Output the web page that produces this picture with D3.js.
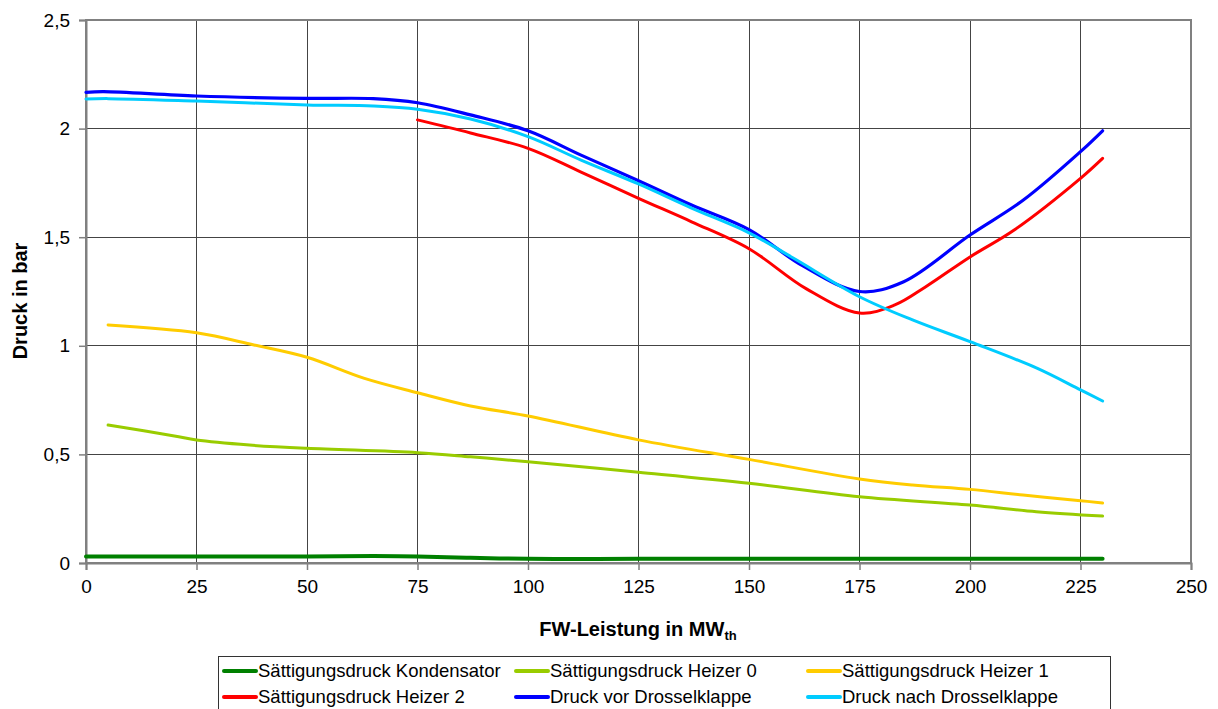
<!DOCTYPE html>
<html>
<head>
<meta charset="utf-8">
<script src="https://cdn.jsdelivr.net/npm/d3@7/dist/d3.min.js"></script>
<style>
  html, body { margin: 0; padding: 0; background: #fff; }
  text { font-family: "Liberation Sans", Arial, sans-serif; fill: #000; }
</style>
</head>
<body>
<svg id="chart" width="1218" height="709"></svg>
<script>
// ---- data ----
const xTicks = [0, 25, 50, 75, 100, 125, 150, 175, 200, 225, 250];
const yTicks = [0, 0.5, 1, 1.5, 2, 2.5];

const xKond = [0, 25, 50, 65, 75, 87, 100, 112, 125, 150, 175, 200, 230];
const kond  = [0.03, 0.03, 0.03, 0.032, 0.03, 0.024, 0.019, 0.018, 0.019, 0.02, 0.02, 0.02, 0.02];

const xH0 = [5, 20, 25, 37, 50, 75, 87, 100, 125, 150, 175, 200, 215, 230];
const h0  = [0.635, 0.585, 0.566, 0.543, 0.528, 0.508, 0.489, 0.466, 0.418, 0.367, 0.305, 0.267, 0.236, 0.216];

const xH1 = [5, 25, 38, 50, 63, 75, 87, 100, 125, 150, 175, 187, 200, 212, 225, 230];
const h1  = [1.096, 1.06, 1.004, 0.947, 0.85, 0.784, 0.723, 0.677, 0.567, 0.477, 0.387, 0.359, 0.339, 0.313, 0.287, 0.276];

const xH2 = [75, 87, 100, 112, 125, 137, 150, 163, 175, 183, 190, 200, 210, 225, 230];
const h2  = [2.04, 1.98, 1.909, 1.80, 1.679, 1.571, 1.447, 1.262, 1.151, 1.188, 1.272, 1.409, 1.533, 1.771, 1.863];

const xVor = [0, 4, 25, 50, 65, 75, 87, 100, 112, 125, 137, 150, 162, 175, 185, 200, 212, 225, 230];
const vor  = [2.167, 2.17, 2.15, 2.139, 2.138, 2.119, 2.063, 1.99, 1.878, 1.76, 1.648, 1.535, 1.37, 1.25, 1.295, 1.51, 1.67, 1.894, 1.99];

const xNach = [0, 5, 25, 50, 65, 75, 87, 100, 112, 125, 137, 150, 160, 175, 187, 200, 215, 225, 230];
const nach  = [2.136, 2.138, 2.127, 2.109, 2.104, 2.089, 2.044, 1.963, 1.855, 1.745, 1.634, 1.52, 1.404, 1.226, 1.119, 1.019, 0.898, 0.797, 0.746];

const seriesNames = ["Sättigungsdruck Kondensator", "Sättigungsdruck Heizer 0", "Sättigungsdruck Heizer 1",
                     "Sättigungsdruck Heizer 2", "Druck vor Drosselklappe", "Druck nach Drosselklappe"];
const seriesColors = ["#008000", "#99cc00", "#ffcc00", "#ff0000", "#0000ff", "#00ccff"];
const seriesX = [xKond, xH0, xH1, xH2, xVor, xNach];
const seriesY = [kond, h0, h1, h2, vor, nach];

// ---- layout ----
const svg = d3.select("#chart");
const L = 86, R = 1191, T = 20, B = 563;
const x = d3.scaleLinear().domain([0, 250]).range([L, R]);
const y = d3.scaleLinear().domain([0, 2.5]).range([B, T]);
const fmt = d => String(d).replace(".", ",");

// grid
svg.append("g").selectAll("line").data(xTicks.slice(1, -1)).join("line")
  .attr("x1", d => x(d)).attr("x2", d => x(d)).attr("y1", T).attr("y2", B)
  .attr("stroke", "#444").attr("stroke-width", 1).attr("shape-rendering", "crispEdges");
svg.append("g").selectAll("line").data(yTicks.slice(1, -1)).join("line")
  .attr("x1", L).attr("x2", R).attr("y1", d => y(d)).attr("y2", d => y(d))
  .attr("stroke", "#444").attr("stroke-width", 1).attr("shape-rendering", "crispEdges");

// frame
svg.append("rect").attr("x", L).attr("y", T).attr("width", R - L).attr("height", B - T)
  .attr("fill", "none").attr("stroke", "#808080").attr("stroke-width", 2);

// axes
const xAxis = d3.axisBottom(x).tickValues(xTicks).tickSize(7).tickPadding(10).tickFormat(fmt);
const gx = svg.append("g").attr("transform", `translate(0,${B})`).call(xAxis);
const yAxis = d3.axisLeft(y).tickValues(yTicks).tickSize(7).tickPadding(9).tickFormat(fmt);
const gy = svg.append("g").attr("transform", `translate(${L},0)`).call(yAxis);
[gx, gy].forEach(g => {
  g.select(".domain").attr("stroke", "#808080").attr("stroke-width", 2);
  g.selectAll(".tick line").attr("stroke", "#808080").attr("stroke-width", 1.5);
  g.selectAll(".tick text").style("font-size", "19px").style("font-family", "Liberation Sans, Arial, sans-serif").attr("fill", "#000");
});

// series
const line = d3.line().x(d => x(d[0])).y(d => y(d[1])).curve(d3.curveCatmullRom.alpha(0.5));
const widths = [4, 3, 3, 3, 3.2, 3];
seriesX.forEach((xs, i) => {
  const pts = xs.map((v, k) => [v, seriesY[i][k]]);
  svg.append("path").datum(pts).attr("d", line)
    .attr("fill", "none").attr("stroke", seriesColors[i]).attr("stroke-width", widths[i])
    .attr("stroke-linejoin", "round").attr("stroke-linecap", "round");
});

// axis titles
svg.append("text").attr("x", 638).attr("y", 636).attr("text-anchor", "middle")
  .style("font-size", "20px").style("font-weight", "bold")
  .html('FW-Leistung in MW<tspan dy="4" style="font-size:13px">th</tspan>');
svg.append("text").attr("transform", "translate(27,301) rotate(-90)").attr("text-anchor", "middle")
  .style("font-size", "20px").style("font-weight", "bold").text("Druck in bar");

// legend
const lg = svg.append("g");
lg.append("rect").attr("x", 218.5).attr("y", 656.5).attr("width", 892).attr("height", 70)
  .attr("fill", "#fff").attr("stroke", "#333").attr("stroke-width", 1);
const colX = [222, 514, 806];
const rowY = [671, 697];
seriesNames.forEach((name, i) => {
  const cx = colX[i % 3], cy = rowY[Math.floor(i / 3)];
  lg.append("line").attr("x1", cx + 2).attr("x2", cx + 34).attr("y1", cy).attr("y2", cy)
    .attr("stroke", seriesColors[i]).attr("stroke-width", 4).attr("stroke-linecap", "round");
  lg.append("text").attr("x", cx + 36).attr("y", cy).attr("dy", "0.35em")
    .style("font-size", "18.5px").text(name);
});
</script>
</body>
</html>
